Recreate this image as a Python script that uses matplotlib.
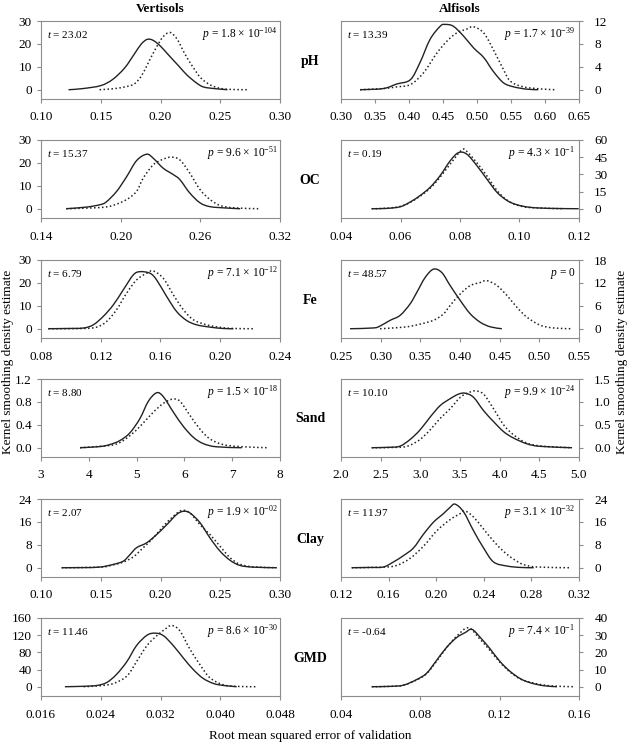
import numpy as np
import matplotlib
matplotlib.use("Agg")
import matplotlib.pyplot as plt
from matplotlib.path import Path
from matplotlib.patches import PathPatch

plt.rcParams["font.family"] = ["Liberation Serif", "DejaVu Serif"]
plt.rcParams["mathtext.fontset"] = "custom"
plt.rcParams["mathtext.rm"] = "Liberation Serif"
plt.rcParams["mathtext.it"] = "Liberation Serif:italic"

# ---- data (solid = s, dotted = d) ----
ph_v_sx = [0.123, 0.135, 0.150, 0.160, 0.170, 0.178, 0.184, 0.189, 0.194, 0.200, 0.207, 0.215, 0.222, 0.230, 0.236, 0.245, 0.256]
ph_v_sy = [0, 0.5, 1.8, 4.5, 9.5, 15.5, 20, 22, 21.5, 19, 15, 10.5, 6.5, 3.0, 1.2, 0.5, 0]
ph_v_dx = [0.149, 0.160, 0.170, 0.178, 0.184, 0.190, 0.196, 0.202, 0.208, 0.214, 0.220, 0.227, 0.234, 0.242, 0.250, 0.260, 0.274]
ph_v_dy = [0, 0.4, 1.2, 2.5, 6, 12, 18, 23, 25, 22, 16, 10, 5, 2, 0.6, 0.1, 0]

ph_a_sx = [0.328, 0.362, 0.382, 0.402, 0.416, 0.431, 0.446, 0.453, 0.465, 0.480, 0.495, 0.510, 0.524, 0.539, 0.554, 0.573, 0.590]
ph_a_sy = [0, 0.2, 1.0, 1.75, 4.7, 8.8, 11.1, 11.4, 11.1, 9.4, 7.3, 5.6, 3.2, 1.2, 0.5, 0.1, 0]
ph_a_dx = [0.328, 0.362, 0.382, 0.402, 0.421, 0.441, 0.456, 0.470, 0.485, 0.495, 0.510, 0.524, 0.539, 0.549, 0.568, 0.598, 0.617]
ph_a_dy = [0, 0.2, 0.5, 0.9, 2.9, 6.4, 8.5, 9.9, 10.6, 11.0, 9.9, 7.0, 3.5, 1.5, 0.5, 0.1, 0]

oc_v_sx = [0.159, 0.174, 0.184, 0.189, 0.197, 0.2045, 0.212, 0.2196, 0.2246, 0.232, 0.2396, 0.2446, 0.252, 0.2597, 0.2673, 0.2798, 0.290]
oc_v_sy = [0, 0.7, 1.7, 2.9, 7.6, 14, 21, 23.8, 22, 17.7, 14.9, 12.7, 6.9, 2.6, 0.9, 0.3, 0]
oc_v_dx = [0.159, 0.184, 0.194, 0.2045, 0.212, 0.217, 0.2246, 0.232, 0.238, 0.2446, 0.252, 0.2597, 0.2673, 0.275, 0.2848, 0.3036]
oc_v_dy = [0, 0.5, 1.4, 4, 7.6, 13.4, 19.2, 21.6, 22.5, 21.3, 15.6, 8.4, 4, 1.4, 0.4, 0]

oc_a_sx = [0.0503, 0.0554, 0.0599, 0.0632, 0.0666, 0.0700, 0.0733, 0.0767, 0.0795, 0.0823, 0.0857, 0.0890, 0.0924, 0.0958, 0.0991, 0.1036, 0.1103, 0.1199]
oc_a_sy = [0, 0.3, 1.7, 5.8, 11.5, 18.8, 28.8, 41.8, 49, 47.6, 37.5, 26, 14.4, 7.2, 3.5, 1.2, 0.3, 0]
oc_a_dx = [0.0503, 0.0554, 0.0599, 0.0632, 0.0666, 0.0700, 0.0733, 0.0767, 0.0806, 0.0823, 0.0857, 0.0890, 0.0924, 0.0958, 0.0991, 0.1036, 0.1148]
oc_a_dy = [0, 0.4, 2.0, 5.5, 11.0, 18.0, 27.5, 39, 51.3, 50, 40, 28.8, 16, 7.5, 3.2, 1.0, 0]

fe_v_sx = [0.0849, 0.0972, 0.1083, 0.115, 0.1217, 0.1284, 0.1351, 0.1418, 0.1463, 0.153, 0.1574, 0.1641, 0.1708, 0.1775, 0.1842, 0.1931, 0.202, 0.2088]
fe_v_sy = [0, 0.1, 0.3, 1.7, 5.4, 10.4, 17, 23.5, 24.9, 24.2, 21.3, 14.1, 7.5, 3.6, 1.7, 0.7, 0.1, 0]
fe_v_dx = [0.0849, 0.1083, 0.1173, 0.124, 0.1306, 0.1373, 0.144, 0.1507, 0.1552, 0.1619, 0.1686, 0.1753, 0.182, 0.1909, 0.1998, 0.2088, 0.2221]
fe_v_dy = [0, 0.1, 0.7, 3.2, 8.3, 15.5, 21.3, 24.2, 25.2, 22, 14.8, 8.3, 3.9, 1.7, 0.6, 0.1, 0]

fe_a_sx = [0.2614, 0.2908, 0.2992, 0.3119, 0.3245, 0.3371, 0.3455, 0.356, 0.3666, 0.3771, 0.3876, 0.4003, 0.4129, 0.4255, 0.4381, 0.4528]
fe_a_sy = [0, 0.2, 0.7, 2.2, 3.5, 6.5, 9.5, 13.4, 15.6, 14.7, 11.3, 7.4, 3.9, 1.7, 0.5, 0]
fe_a_dx = [0.2992, 0.3287, 0.3455, 0.3666, 0.3792, 0.3876, 0.4003, 0.4129, 0.4255, 0.434, 0.4466, 0.4592, 0.4718, 0.4845, 0.5013, 0.5181, 0.5392]
fe_a_dy = [0, 0.4, 1.0, 2.2, 3.9, 6.1, 9.1, 11.3, 12.1, 12.6, 11.3, 8.7, 5.6, 3.0, 0.9, 0.2, 0]

sand_v_sx = [3.816, 4.234, 4.44, 4.65, 4.86, 5.07, 5.245, 5.42, 5.56, 5.77, 5.98, 6.19, 6.40, 6.675, 7.20]
sand_v_sy = [0, 0.02, 0.055, 0.125, 0.26, 0.51, 0.81, 0.96, 0.89, 0.62, 0.37, 0.18, 0.07, 0.016, 0]
sand_v_dx = [3.816, 4.44, 4.65, 4.86, 5.07, 5.28, 5.49, 5.63, 5.77, 5.91, 6.12, 6.33, 6.54, 6.81, 7.16, 7.72]
sand_v_dy = [0, 0.04, 0.09, 0.21, 0.37, 0.56, 0.73, 0.81, 0.85, 0.81, 0.56, 0.32, 0.15, 0.055, 0.02, 0]

sand_a_sx = [2.387, 2.619, 2.745, 2.871, 2.997, 3.124, 3.25, 3.376, 3.481, 3.566, 3.671, 3.797, 3.923, 4.05, 4.176, 4.344, 4.512, 4.912]
sand_a_sy = [0, 0.01, 0.035, 0.18, 0.39, 0.67, 0.92, 1.07, 1.17, 1.19, 1.1, 0.81, 0.57, 0.35, 0.21, 0.085, 0.03, 0]
sand_a_dx = [2.387, 2.745, 2.871, 2.997, 3.124, 3.25, 3.376, 3.503, 3.608, 3.692, 3.797, 3.923, 4.05, 4.176, 4.344, 4.555, 4.912]
sand_a_dy = [0, 0.01, 0.057, 0.18, 0.39, 0.64, 0.85, 1.1, 1.2, 1.24, 1.17, 0.85, 0.5, 0.28, 0.1, 0.03, 0]

clay_v_sx = [0.1173, 0.1354, 0.1494, 0.1605, 0.1689, 0.1745, 0.180, 0.1884, 0.1968, 0.2052, 0.2135, 0.2191, 0.2247, 0.2331, 0.2414, 0.2498, 0.2582, 0.2665, 0.2777, 0.2972]
clay_v_sy = [0, 0.05, 0.23, 1.16, 2.3, 4.6, 7, 8.7, 11.6, 15, 18.6, 19.7, 19.1, 15.7, 10.4, 5.8, 2.6, 0.8, 0.2, 0]
clay_v_dx = [0.1173, 0.1494, 0.1605, 0.1689, 0.1773, 0.1856, 0.194, 0.2024, 0.2108, 0.2177, 0.2247, 0.2331, 0.2414, 0.2498, 0.2582, 0.2665, 0.2777, 0.2972]
clay_v_dy = [0, 0.2, 1.0, 2.0, 3.8, 7, 10.4, 14.5, 18, 20, 19.1, 15, 11.6, 7.5, 3.5, 1.2, 0.3, 0]

clay_a_sx = [0.129, 0.1444, 0.1556, 0.164, 0.1724, 0.1809, 0.1893, 0.1977, 0.2061, 0.2117, 0.2159, 0.223, 0.2314, 0.2398, 0.2482, 0.2594, 0.2706, 0.2819]
clay_a_sy = [0, 0.1, 0.25, 2.0, 4.2, 6.9, 11.7, 15.9, 18.9, 21.1, 22.2, 19.5, 12.9, 6.9, 2.0, 0.6, 0.1, 0]
clay_a_dx = [0.129, 0.1556, 0.1668, 0.1781, 0.1893, 0.2005, 0.2117, 0.2202, 0.2244, 0.2314, 0.2398, 0.2482, 0.2566, 0.265, 0.2734, 0.2847, 0.3127]
clay_a_dy = [0, 0.2, 0.8, 3.3, 7.5, 12.9, 16.8, 18.9, 19.8, 17.7, 13.5, 9.3, 5.7, 3.0, 1.1, 0.25, 0]

gmd_v_sx = [0.0192, 0.0217, 0.0235, 0.0248, 0.0261, 0.0275, 0.0288, 0.0302, 0.0313, 0.0324, 0.0337, 0.0351, 0.0364, 0.0377, 0.0391, 0.0404, 0.0422]
gmd_v_sy = [0, 1, 3, 9.8, 28.5, 58.6, 96, 120, 124.7, 118.7, 96, 66, 39.8, 19.5, 7.5, 3, 0]
gmd_v_dx = [0.0217, 0.0239, 0.0257, 0.0275, 0.0288, 0.0302, 0.0315, 0.0326, 0.0335, 0.0346, 0.0359, 0.0373, 0.0386, 0.0404, 0.0422, 0.0447]
gmd_v_dy = [0, 2.3, 7.5, 24.8, 58.6, 96, 118.7, 133.7, 142.7, 130, 88.6, 51, 21, 4.5, 0.8, 0]

gmd_a_sx = [0.0555, 0.0647, 0.0715, 0.0782, 0.0832, 0.0883, 0.0933, 0.0984, 0.1026, 0.106, 0.1102, 0.1152, 0.1203, 0.1253, 0.1304, 0.1354, 0.1421, 0.1489]
gmd_a_sy = [0, 0.2, 0.9, 4.2, 7.9, 15.5, 23, 28.7, 31.5, 33.4, 28.7, 22, 14.5, 8.9, 4.7, 2.3, 0.6, 0]
gmd_a_dx = [0.0555, 0.0647, 0.0715, 0.0782, 0.0832, 0.0883, 0.0933, 0.0984, 0.1043, 0.1102, 0.1152, 0.1203, 0.1253, 0.1304, 0.1354, 0.1421, 0.1489, 0.1573]
gmd_a_dy = [0, 0.2, 0.9, 4.0, 7.6, 15.0, 22.8, 29.5, 34.3, 27.5, 21, 14, 8.5, 4.5, 2.6, 1.0, 0.3, 0]

row_names = ["pH", "OC", "Fe", "Sand", "Clay", "GMD"]
t_vert = ["23.02", "15.37", "6.79", "8.80", "2.07", "11.46"]
t_alf = ["13.39", "0.19", "48.57", "10.10", "11.97", "-0.64"]
p_vert = [("1.8", "-104"), ("9.6", "-51"), ("7.1", "-12"), ("1.5", "-18"), ("1.9", "-02"), ("8.6", "-30")]
p_alf = [("1.7", "-39"), ("4.3", "-1"), None, ("9.9", "-24"), ("3.1", "-32"), ("7.4", "-1")]

curves_vert = [(ph_v_sx, ph_v_sy, ph_v_dx, ph_v_dy), (oc_v_sx, oc_v_sy, oc_v_dx, oc_v_dy),
               (fe_v_sx, fe_v_sy, fe_v_dx, fe_v_dy), (sand_v_sx, sand_v_sy, sand_v_dx, sand_v_dy),
               (clay_v_sx, clay_v_sy, clay_v_dx, clay_v_dy), (gmd_v_sx, gmd_v_sy, gmd_v_dx, gmd_v_dy)]
curves_alf = [(ph_a_sx, ph_a_sy, ph_a_dx, ph_a_dy), (oc_a_sx, oc_a_sy, oc_a_dx, oc_a_dy),
              (fe_a_sx, fe_a_sy, fe_a_dx, fe_a_dy), (sand_a_sx, sand_a_sy, sand_a_dx, sand_a_dy),
              (clay_a_sx, clay_a_sy, clay_a_dx, clay_a_dy), (gmd_a_sx, gmd_a_sy, gmd_a_dx, gmd_a_dy)]

# x ticks (start, stop, step, format) and y ticks (top, step, format)
xt_vert = [(0.10, 0.30, 0.05, "%.2f"), (0.14, 0.32, 0.06, "%.2f"), (0.08, 0.24, 0.04, "%.2f"),
           (3, 8, 1, "%d"), (0.10, 0.30, 0.05, "%.2f"), (0.016, 0.048, 0.008, "%.3f")]
xt_alf = [(0.30, 0.65, 0.05, "%.2f"), (0.04, 0.12, 0.02, "%.2f"), (0.25, 0.55, 0.05, "%.2f"),
          (2.0, 5.0, 0.5, "%.1f"), (0.12, 0.32, 0.04, "%.2f"), (0.04, 0.16, 0.04, "%.2f")]
yt_vert = [(30, 10, "%d"), (30, 10, "%d"), (30, 10, "%d"), (1.2, 0.4, "%.1f"), (24, 8, "%d"), (160, 40, "%d")]
yt_alf = [(12, 4, "%d"), (60, 15, "%d"), (18, 6, "%d"), (1.5, 0.5, "%.1f"), (24, 8, "%d"), (40, 10, "%d")]

W, H = 631, 743
fig = plt.figure(figsize=(W / 100, H / 100), dpi=100)
row_tops = [21, 140, 260, 379, 499, 618]
ax_h = 78
spine_c = "#8c8c8c"


def smooth_path(x, y):
    # Excel-style smoothed line: Bezier segments through the data points
    p = np.column_stack([x, y]).astype(float)
    ext = np.vstack([p[0], p, p[-1]])
    verts = [p[0]]
    codes = [Path.MOVETO]
    for k in range(len(p) - 1):
        p0, p1, p2, p3 = ext[k], ext[k + 1], ext[k + 2], ext[k + 3]
        c1 = p1 + (p2 - p0) / 6.0
        c2 = p2 - (p3 - p1) / 6.0
        verts += [c1, c2, p2]
        codes += [Path.CURVE4] * 3
    return Path(verts, codes)


def style_axis(ax, curves, xt, yt, right):
    sx, sy, dx, dy = curves
    ax.add_patch(PathPatch(smooth_path(sx, sy), fill=False, edgecolor="#222222", lw=1.0))
    ax.add_patch(PathPatch(smooth_path(dx, dy), fill=False, edgecolor="#222222", lw=1.1,
                           ls=(0, (1, 1.6))))
    x0, x1, xs, xf = xt
    ticks = np.arange(x0, x1 + xs / 2, xs)
    ax.set_xlim(x0, x1)
    ax.set_xticks(ticks)
    ax.set_xticklabels([xf % v for v in ticks])
    top, ys, yf = yt
    yticks = np.arange(0, top + ys / 2, ys)
    ax.set_ylim(-0.135 * top, top)
    ax.set_yticks(yticks)
    ax.set_yticklabels([yf % v for v in yticks])
    for s in ax.spines.values():
        s.set_color(spine_c)
        s.set_linewidth(0.8)
    ax.tick_params(colors=spine_c, labelcolor="black", labelsize=9.5, length=3, width=0.8, direction="out")
    if right:
        ax.yaxis.tick_right()
        ax.tick_params(axis="y", pad=8)
    ax.tick_params(axis="x", pad=6)


for i in range(6):
    b = 1 - (row_tops[i] + ax_h) / H
    axl = fig.add_axes([41 / W, b, 239 / W, ax_h / H])
    style_axis(axl, curves_vert[i], xt_vert[i], yt_vert[i], False)
    axl.text(0.025, 0.83, r"$t$ = " + t_vert[i], transform=axl.transAxes, fontsize=8, va="center")
    m, e = p_vert[i]
    axl.text(0.99, 0.83, r"$p$ = %s × 10$^{%s}$" % (m, e), transform=axl.transAxes,
             fontsize=8.3, va="center", ha="right")

    axr = fig.add_axes([341 / W, b, 238 / W, ax_h / H])
    style_axis(axr, curves_alf[i], xt_alf[i], yt_alf[i], True)
    axr.text(0.025, 0.83, r"$t$ = " + t_alf[i], transform=axr.transAxes, fontsize=8, va="center")
    if p_alf[i] is None:
        ptxt = r"$p$ = 0"
    else:
        ptxt = r"$p$ = %s × 10$^{%s}$" % p_alf[i]
    axr.text(0.985, 0.83, ptxt, transform=axr.transAxes, fontsize=8.3, va="center", ha="right")

    fig.text(310 / W, 1 - (row_tops[i] + 40) / H, row_names[i], fontsize=10, weight="bold",
             ha="center", va="center")

fig.text(160 / W, 1 - 9 / H, "Vertisols", fontsize=9.5, weight="bold", ha="center", va="center")
fig.text(460 / W, 1 - 9 / H, "Alfisols", fontsize=9.5, weight="bold", ha="center", va="center")
fig.text(8 / W, 1 - 362 / H, "Kernel smoothing density estimate", rotation=90, fontsize=9.5,
         ha="center", va="center")
fig.text(622 / W, 1 - 362 / H, "Kernel smoothing density estimate", rotation=90, fontsize=9.5,
         ha="center", va="center")
fig.text(310 / W, 1 / H, "Root mean squared error of validation", fontsize=9.5,
         ha="center", va="bottom")

fig.savefig("out.png", dpi=100)
